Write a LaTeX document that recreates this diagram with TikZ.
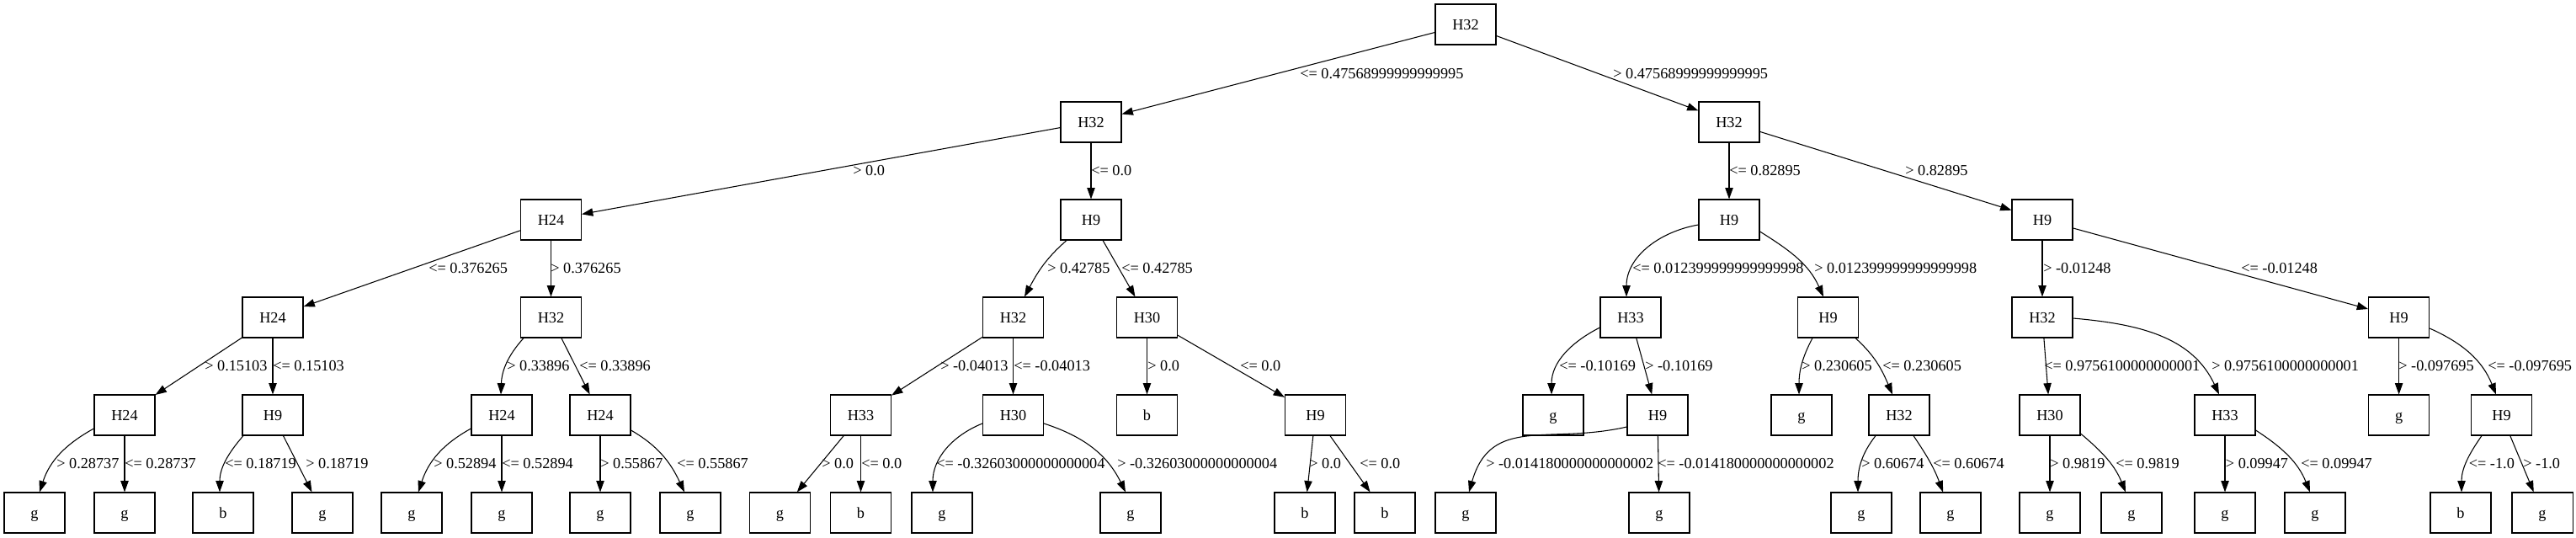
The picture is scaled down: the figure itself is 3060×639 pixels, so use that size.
\documentclass[tikz,border=0pt]{standalone}
\usepackage{fontspec}
\setmainfont{Liberation Serif}
\usetikzlibrary{arrows.meta}
\newcommand\gvf{\fontsize{13.7pt}{16pt}\selectfont}
\begin{document}
\begin{tikzpicture}[x=0.75pt,y=-0.75pt,
  box/.style={draw, line width=0.8pt, rectangle, minimum width=54pt, minimum height=36pt, inner sep=0pt, font=\gvf, text height=9.3pt, text depth=0pt},
  lbl/.style={anchor=base west, inner sep=0pt, font=\gvf},
  edge/.style={-{Triangle[length=10pt,width=7pt]}, line width=0.8pt}]
\useasboundingbox (0,0) rectangle (3060,639);
% level 0-3 internal nodes
\node[box] (n0) at (1741,29) {H32};
\node[box] (n1) at (1296,145) {H32};
\node[box] (n2) at (2054,145) {H32};
\node[box] (n3) at (654.5,261) {H24};
\node[box] (n4) at (1296,261) {H9};
\node[box] (n5) at (2054,261) {H9};
\node[box] (n6) at (2426,261) {H9};
\node[box] (n7) at (324,377) {H24};
\node[box] (n8) at (654.5,377) {H32};
\node[box] (n9) at (1203.5,377) {H32};
\node[box] (n10) at (1362.5,377) {H30};
\node[box] (n11) at (1937,377) {H33};
\node[box] (n12) at (2171.5,377) {H9};
\node[box] (n13) at (2426,377) {H32};
\node[box] (n14) at (2849.6,377) {H9};
% level 4
\node[box] (n15) at (148,493) {H24};
\node[box] (n16) at (324,493) {H9};
\node[box] (n17) at (596,493) {H24};
\node[box] (n18) at (713,493) {H24};
\node[box] (n19) at (1022.5,493) {H33};
\node[box] (n20) at (1203.5,493) {H30};
\node[box] (n21) at (1362.5,493) {b};
\node[box] (n22) at (1562.5,493) {H9};
\node[box] (n23) at (1845,493) {g};
\node[box] (n24) at (1969,493) {H9};
\node[box] (n25) at (2140,493) {g};
\node[box] (n26) at (2256,493) {H32};
\node[box] (n27) at (2435,493) {H30};
\node[box] (n28) at (2643,493) {H33};
\node[box] (n29) at (2849.6,493) {g};
\node[box] (n30) at (2971.5,493) {H9};
% level 5 leaves
\node[box] (l1) at (41,609) {g};
\node[box] (l2) at (148,609) {g};
\node[box] (l3) at (265,609) {b};
\node[box] (l4) at (383,609) {g};
\node[box] (l5) at (489,609) {g};
\node[box] (l6) at (596,609) {g};
\node[box] (l7) at (713,609) {g};
\node[box] (l8) at (820,609) {g};
\node[box] (l9) at (926.5,609) {g};
\node[box] (l10) at (1022.5,609) {b};
\node[box] (l11) at (1119,609) {g};
\node[box] (l12) at (1343,609) {g};
\node[box] (l13) at (1550,609) {b};
\node[box] (l14) at (1645,609) {b};
\node[box] (l15) at (1741,609) {g};
\node[box] (l16) at (1971,609) {g};
\node[box] (l17) at (2211,609) {g};
\node[box] (l18) at (2317,609) {g};
\node[box] (l19) at (2435,609) {g};
\node[box] (l20) at (2532,609) {g};
\node[box] (l21) at (2643,609) {g};
\node[box] (l22) at (2750,609) {g};
\node[box] (l23) at (2923,609) {b};
\node[box] (l24) at (3020,609) {g};
% straight edges
\foreach \a/\b in {n0/n1,n0/n2,n1/n3,n1/n4,n2/n5,n2/n6,n3/n7,n3/n8,n4/n10,n6/n13,n6/n14,
  n7/n15,n7/n16,n8/n18,n9/n19,n9/n20,n10/n21,n10/n22,n11/n24,n13/n27,n14/n29,
  n15/l2,n16/l4,n17/l6,n18/l7,n19/l9,n19/l10,n22/l13,n22/l14,n24/l16,n27/l19,n28/l21,n30/l24}
  \draw[edge] (\a) -- (\b);
% curved edges
\draw[edge] ([shift={(-29,0)}]n4.south) to[out=221,in=62] ([shift={(13.5,0)}]n9.north);
\draw[edge] ([shift={(0,6)}]n5.west) to[out=190,in=90] ([shift={(-5,0)}]n11.north);
\draw[edge] ([shift={(0,14)}]n5.east) to[out=328,in=114] ([shift={(-5.5,0)}]n12.north);
\draw[edge] ([shift={(-32.5,0)}]n8.south) to[out=228,in=88] ([shift={(-1,0)}]n17.north);
\draw[edge] ([shift={(0,16)}]n15.west) to[out=209,in=72] ([shift={(6,0)}]l1.north);
\draw[edge] ([shift={(0,16)}]n17.west) to[out=209,in=72] ([shift={(8,0)}]l5.north);
\draw[edge] ([shift={(-35,0)}]n16.south) to[out=229,in=90] ([shift={(-4,0)}]l3.north);
\draw[edge] ([shift={(0,18)}]n18.east) to[out=330,in=115] ([shift={(-7,0)}]l8.north);
\draw[edge] ([shift={(0,10)}]n20.west) to[out=202,in=90] ([shift={(-11,0)}]l11.north);
\draw[edge] ([shift={(0,10)}]n20.east) to[out=342,in=116] ([shift={(-6,0)}]l12.north);
\draw[edge] ([shift={(0,12)}]n11.west) to[out=207,in=90] ([shift={(-2,0)}]n23.north);
\draw[edge] ([shift={(0,14)}]n24.west) to[out=193,in=74,looseness=1.2] ([shift={(4,0)}]l15.north);
\draw[edge] ([shift={(-18.5,0)}]n12.south) to[out=242,in=90] ([shift={(-3,0)}]n25.north);
\draw[edge] ([shift={(32.5,0)}]n12.south) to[out=318,in=113] ([shift={(-8,0)}]n26.north);
\draw[edge] ([shift={(-28,0)}]n26.south) to[out=232,in=90] ([shift={(-4,0)}]l17.north);
\draw[edge] ([shift={(17,0)}]n26.south) to[out=304,in=110] ([shift={(-9,0)}]l18.north);
\draw[edge] ([shift={(0,1)}]n13.east) to[out=355,in=115] ([shift={(-7,0)}]n28.north);
\draw[edge] ([shift={(0,22)}]n27.east) to[out=320,in=112] ([shift={(-7,0)}]l20.north);
\draw[edge] ([shift={(0,18)}]n28.east) to[out=327,in=112] ([shift={(-6,0)}]l22.north);
\draw[edge] ([shift={(0,13)}]n14.east) to[out=336,in=112] ([shift={(-6.5,0)}]n30.north);
\draw[edge] ([shift={(-23.5,0)}]n30.south) to[out=235,in=90] ([shift={(1,0)}]l23.north);
% labels
\node[lbl] (t1) at (1544,93) {<= 0.47568999999999995};
\node[lbl] (t2) at (1916,93) {> 0.47568999999999995};
\node[lbl] (t3) at (1013,208) {> 0.0};
\node[lbl] (t4) at (1296,208) {<= 0.0};
\node[lbl] (t5) at (2054,208) {<= 0.82895};
\node[lbl] (t6) at (2263,208) {> 0.82895};
\node[lbl] (t7) at (509,324) {<= 0.376265};
\node[lbl] (t8) at (654,324) {> 0.376265};
\node[lbl] (t9) at (1244,324) {> 0.42785};
\node[lbl] (t10) at (1332,324) {<= 0.42785};
\node[lbl] (t11) at (1939,324) {<= 0.012399999999999998};
\node[lbl] (t12) at (2155,324) {> 0.012399999999999998};
\node[lbl] (t13) at (2427,324) {> -0.01248};
\node[lbl] (t14) at (2662,324) {<= -0.01248};
\node[lbl] (t15) at (243,440) {> 0.15103};
\node[lbl] (t16) at (324,440) {<= 0.15103};
\node[lbl] (t17) at (602,440) {> 0.33896};
\node[lbl] (t18) at (688,440) {<= 0.33896};
\node[lbl] (t19) at (1117,440) {> -0.04013};
\node[lbl] (t20) at (1204,440) {<= -0.04013};
\node[lbl] (t21) at (1363,440) {> 0.0};
\node[lbl] (t22) at (1473,440) {<= 0.0};
\node[lbl] (t23) at (1852,440) {<= -0.10169};
\node[lbl] (t24) at (1954,440) {> -0.10169};
\node[lbl] (t25) at (2140,440) {> 0.230605};
\node[lbl] (t26) at (2236,440) {<= 0.230605};
\node[lbl] (t27) at (2428,440) {<= 0.9756100000000001};
\node[lbl] (t28) at (2627,440) {> 0.9756100000000001};
\node[lbl] (t29) at (2849,440) {> -0.097695};
\node[lbl] (t30) at (2955,440) {<= -0.097695};
\node[lbl] (t31) at (67,556) {> 0.28737};
\node[lbl] (t32) at (148,556) {<= 0.28737};
\node[lbl] (t33) at (267,556) {<= 0.18719};
\node[lbl] (t34) at (363,556) {> 0.18719};
\node[lbl] (t35) at (515,556) {> 0.52894};
\node[lbl] (t36) at (596,556) {<= 0.52894};
\node[lbl] (t37) at (713,556) {> 0.55867};
\node[lbl] (t38) at (804,556) {<= 0.55867};
\node[lbl] (t39) at (976,556) {> 0.0};
\node[lbl] (t40) at (1023,556) {<= 0.0};
\node[lbl] (t41) at (1112,556) {<= -0.32603000000000004};
\node[lbl] (t42) at (1327,556) {> -0.32603000000000004};
\node[lbl] (t43) at (1555,556) {> 0.0};
\node[lbl] (t44) at (1615,556) {<= 0.0};
\node[lbl] (t45) at (1765,556) {> -0.014180000000000002};
\node[lbl] (t46) at (1969,556) {<= -0.014180000000000002};
\node[lbl] (t47) at (2211,556) {> 0.60674};
\node[lbl] (t48) at (2296,556) {<= 0.60674};
\node[lbl] (t49) at (2435,556) {> 0.9819};
\node[lbl] (t50) at (2513,556) {<= 0.9819};
\node[lbl] (t51) at (2643.6,556) {> 0.09947};
\node[lbl] (t52) at (2733,556) {<= 0.09947};
\node[lbl] (t53) at (2932.5,556) {<= -1.0};
\node[lbl] (t54) at (2997,556) {> -1.0};
\end{tikzpicture}
\end{document}
